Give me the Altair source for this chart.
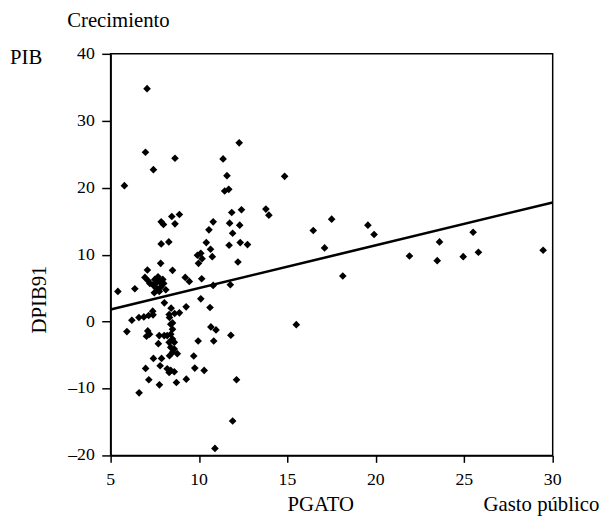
import altair as alt
import pandas as pd

# Gasto público (PGATO) and Crecimiento PIB (DPIB91)
pgato = [
    7.06, 6.97, 8.64, 7.42, 5.78, 12.27, 11.36, 11.58, 11.45, 11.68,
    14.84, 11.85, 12.40, 13.78, 13.95, 7.86, 7.99, 8.46, 8.89, 8.64,
    10.80, 10.56, 11.73, 12.30, 11.90, 7.86, 8.29, 10.41, 10.65, 10.75,
    9.91, 10.10, 9.97, 10.17, 11.70, 12.33, 12.74, 12.20, 7.83, 7.08,
    8.50, 6.94, 7.12, 7.68, 7.77, 9.22, 9.45, 10.15, 11.77, 10.80,
    5.41, 6.37, 7.38, 7.57, 7.85, 8.12, 7.47, 7.75, 7.22, 7.60,
    10.10, 10.62, 9.27, 8.04, 8.42, 8.62, 8.31, 8.89, 8.33, 6.20,
    6.60, 6.88, 7.15, 7.40, 7.38, 8.50, 5.92, 7.10, 7.20, 7.03,
    10.67, 10.96, 9.95, 10.83, 11.80, 8.40, 8.50, 8.40, 8.20, 8.03,
    7.75, 8.50, 8.60, 8.31, 7.70, 8.40, 8.60, 8.50, 8.77, 8.33,
    7.42, 7.88, 7.80, 9.70, 9.76, 10.29, 6.98, 8.20, 8.40, 8.60,
    8.31, 7.16, 7.76, 8.72, 9.28, 12.12, 6.61, 11.90, 10.90, 16.46,
    17.50, 17.10, 19.55, 19.90, 18.13, 15.50, 21.90, 23.60, 23.47, 24.94,
    25.50, 25.80, 29.46, 7.95, 7.50, 8.00,
]
dpib91 = [
    34.8, 25.3, 24.4, 22.7, 20.3, 26.7, 24.3, 21.8, 19.5, 19.75,
    21.7, 16.3, 16.7, 16.8, 15.9, 14.9, 14.5, 15.7, 16.0, 14.6,
    14.9, 13.7, 14.7, 14.4, 13.2, 11.6, 11.9, 11.8, 10.8, 9.7,
    9.9, 10.2, 8.7, 9.4, 11.4, 11.8, 11.5, 8.9, 8.7, 7.7,
    7.65, 6.6, 6.1, 6.7, 6.0, 6.6, 6.0, 6.4, 5.5, 5.4,
    4.5, 4.9, 5.5, 5.0, 5.2, 4.75, 4.3, 4.5, 5.7, 5.8,
    3.4, 2.1, 2.2, 2.8, 2.0, 1.2, 1.05, 1.3, 0.6, 0.2,
    0.6, 0.7, 0.9, 1.0, 1.55, -0.2, -1.5, -1.4, -1.9, -2.2,
    -0.8, -1.25, -2.9, -2.9, -2.05, -0.4, -1.15, -1.9, -2.1, -2.1,
    -2.1, -2.6, -3.1, -3.1, -3.3, -3.85, -4.1, -4.6, -4.8, -5.1,
    -5.5, -5.5, -6.6, -5.15, -6.95, -7.3, -7.0, -7.05, -7.3, -7.5,
    -7.6, -8.7, -9.45, -9.1, -8.6, -8.7, -10.65, -14.85, -18.95, 13.6,
    15.3, 11.0, 14.4, 13.0, 6.8, -0.46, 9.8, 11.9, 9.1, 9.7,
    13.35, 10.35, 10.65, 6.3, 6.3, 5.7,
]

# fitted regression line, read at the two ends of the axis
fit_x = [5, 30]
fit_y = [1.8, 17.8]

x_ticks = [5, 10, 15, 20, 25, 30]
y_ticks = [-20, -10, 0, 10, 20, 30, 40]

FONT = "Liberation Serif"

pts = pd.DataFrame({"PGATO": pgato, "DPIB91": dpib91})
fit = pd.DataFrame({"PGATO": fit_x, "DPIB91": fit_y})
xt = pd.DataFrame({"v": x_ticks, "t": [str(v) for v in x_ticks]})
yt = pd.DataFrame({"v": y_ticks,
                   "t": [str(v).replace("-", "\u2013") for v in y_ticks]})

xs = alt.Scale(domain=[5, 30], nice=False, zero=False)
ys = alt.Scale(domain=[-20, 40], nice=False, zero=False)

x_axis = alt.Axis(values=x_ticks, title=None, grid=False, tickSize=7,
                  labels=False)
y_axis = alt.Axis(values=y_ticks, title=None, grid=False, tickSize=9,
                  labels=False)

points = alt.Chart(pts).mark_point(
    shape="diamond", filled=True, color="black", size=60, opacity=1
).encode(
    x=alt.X("PGATO:Q", scale=xs, axis=x_axis),
    y=alt.Y("DPIB91:Q", scale=ys, axis=y_axis),
)

line = alt.Chart(fit).mark_line(color="black", strokeWidth=2.6).encode(
    x=alt.X("PGATO:Q", scale=xs, axis=x_axis),
    y=alt.Y("DPIB91:Q", scale=ys, axis=y_axis),
)

x_labels = alt.Chart(xt).mark_text(
    font=FONT, fontSize=18, color="black", align="center", baseline="top"
).encode(x=alt.X("v:Q", scale=xs, axis=x_axis), y=alt.value(423), text="t:N")

y_labels = alt.Chart(yt).mark_text(
    font=FONT, fontSize=18, color="black", align="right", baseline="middle"
).encode(y=alt.Y("v:Q", scale=ys, axis=y_axis), x=alt.value(-16), text="t:N")

def label(txt, x, y, angle=0, align="left"):
    return alt.Chart(pd.DataFrame({"t": [txt]})).mark_text(
        font=FONT, fontSize=21, color="black", align=align,
        baseline="middle", angle=angle
    ).encode(x=alt.value(x), y=alt.value(y), text="t:N")

labels = (
    label("Crecimiento", -44, -33)
    + label("PIB", -102, 4)
    + label("DPIB91", -71, 249, angle=270, align="center")
    + label("PGATO", 213, 457, align="center")
    + label("Gasto público", 378, 457)
)

chart = (points + line + x_labels + y_labels + labels).properties(
    width=448, height=407,
    autosize=alt.AutoSizeParams(type="none"),
    padding={"left": 104, "top": 43, "right": 52, "bottom": 63},
).configure(
    font=FONT
).configure_view(
    stroke="black", strokeWidth=1.5
).configure_axis(
    tickColor="black", domainColor="black", tickWidth=1.5, domainWidth=1.5,
)

chart.save("out.html", embed_options={"renderer": "svg", "actions": False})
